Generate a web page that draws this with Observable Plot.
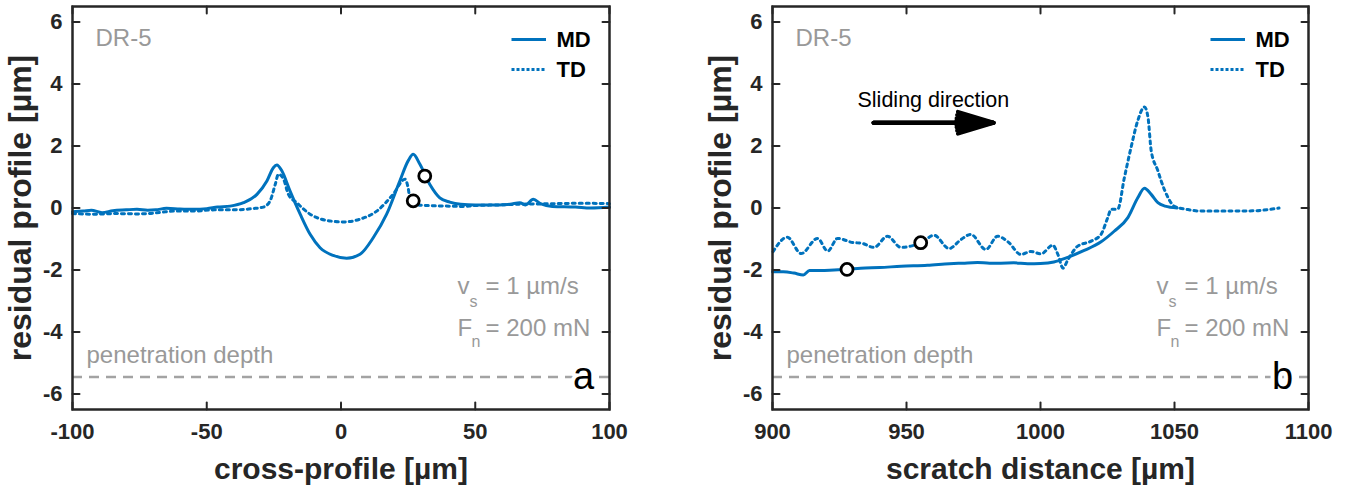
<!DOCTYPE html>
<html><head><meta charset="utf-8">
<script src="https://cdn.jsdelivr.net/npm/d3@7"></script>
<script src="https://cdn.jsdelivr.net/npm/@observablehq/plot@0.6"></script>
<style>
body{margin:0;background:#fff;}
#wrap{display:flex;width:1353px;height:493px;overflow:hidden;}
</style></head><body><div id="wrap"></div>
<script>
// ---- data ----
const yTicks = [-6, -4, -2, 0, 2, 4, 6];
const xTicksA = [-100, -50, 0, 50, 100];
const xTicksB = [900, 950, 1000, 1050, 1100];
const penetrationDepth = -5.45;

// panel a: cross-profile [µm] vs residual profile [µm]
const mdCross = [[-100,-0.12],[-96,-0.1],[-93,-0.07],[-89,-0.15],[-85,-0.09],[-80,-0.06],[-76,-0.04],[-72,-0.07],[-69,-0.06],[-65,-0.01],[-60,-0.03],[-55,-0.04],[-50,-0.02],[-46,0.03],[-41.3,0.06],[-36.3,0.17],[-31.3,0.44],[-27.6,0.87],[-25.2,1.3],[-23.9,1.39],[-22,1.19],[-19,0.55],[-15.2,-0.2],[-11.5,-0.85],[-7.8,-1.28],[-2.9,-1.53],[2.1,-1.62],[7.1,-1.49],[12,-0.96],[17,-0.2],[21.9,0.87],[25,1.52],[26.9,1.73],[29.4,1.41],[33.1,0.76],[36.8,0.33],[40.5,0.19],[44.6,0.12],[50,0.1],[58.8,0.1],[63,0.12],[66.6,0.17],[68.8,0.1],[71.6,0.28],[74.5,0.13],[78.7,0.05],[87.3,0.03],[93,0.0],[100,0.03]];
const tdCross = [[-100,-0.18],[-92,-0.2],[-84,-0.18],[-76,-0.19],[-72,-0.18],[-67,-0.14],[-62,-0.1],[-55,-0.1],[-47,-0.06],[-40,-0.06],[-33,-0.02],[-28.9,0.03],[-26.4,0.23],[-24.5,0.76],[-23.3,1.09],[-21.4,0.93],[-19.6,0.44],[-16.5,0.17],[-11.5,-0.2],[-5.3,-0.4],[0.9,-0.45],[7.1,-0.36],[13.3,-0.1],[19.4,0.44],[23.8,0.93],[25,0.65],[25.7,0.28],[26.9,0.12],[32,0.08],[40.5,0.06],[44.6,0.05],[50,0.08],[58.8,0.1],[65,0.12],[73,0.13],[80,0.14],[87.3,0.15],[93,0.15],[100,0.14]];
const markersCross = [[31.2,1.03],[26.9,0.23]];

// panel b: scratch distance [µm] vs residual profile [µm]
const mdScratch = [[900,-2.06],[904,-2.06],[908,-2.1],[911.5,-2.16],[913.8,-2.02],[918,-2.02],[923,-2.0],[927.8,-1.98],[932.9,-1.94],[940,-1.92],[948,-1.88],[957.8,-1.85],[966,-1.8],[971,-1.78],[976.5,-1.76],[981,-1.78],[985.2,-1.78],[990,-1.77],[995.2,-1.8],[1000,-1.79],[1005,-1.74],[1010.2,-1.59],[1016.3,-1.37],[1022.6,-1.09],[1027.5,-0.75],[1032.6,-0.31],[1036.3,0.33],[1038.8,0.64],[1041.3,0.44],[1043.8,0.17],[1046.5,0.06],[1051,0.0]];
const tdScratch = [[900.2,-1.41],[905.5,-0.94],[910.7,-1.47],[916.8,-0.98],[920.6,-1.39],[924.3,-0.98],[930.4,-1.12],[932.9,-1.13],[937.9,-1.27],[942.9,-0.91],[947.9,-1.27],[951.6,-1.23],[955.3,-1.13],[960.3,-0.88],[965.9,-1.31],[970.3,-1.02],[974,-0.85],[979.6,-1.34],[984,-0.91],[988,-1.1],[992.7,-1.5],[996.4,-1.4],[1000.2,-1.48],[1004.6,-1.2],[1006.5,-1.5],[1008.4,-1.94],[1010.2,-1.67],[1013.9,-1.23],[1018.9,-1.07],[1022.6,-0.85],[1025.1,-0.31],[1026.4,-0.04],[1028.8,-0.04],[1031.3,0.98],[1033.8,1.96],[1036.3,2.82],[1038.8,3.26],[1040.1,2.93],[1041.3,1.85],[1043.8,1.2],[1045,0.88],[1047.5,0.35],[1050,0.05],[1055,-0.05],[1060,-0.1],[1070,-0.1],[1080,-0.09],[1085,-0.05],[1089,0.0]];
const markersScratch = [[927.8,-1.98],[955.3,-1.12]];
const slidingArrow = [{x1: 937.7, x2: 982.5, y: 2.75}];

// ---- styles ----
const BLUE = "#0072BD", GRAY = "#999999", INK = "#262626";
const FONT = "'Liberation Sans', Arial, Helvetica, sans-serif";
const tickShape = {draw(ctx, l) { ctx.moveTo(0, 0); ctx.lineTo(0, -l); }};

function panel(o) {
  const yD = [-6.5, 6.5];
  const inner = o.width - o.marginLeft - o.marginRight;
  const tk = {length: 7, anchor: "start", shape: tickShape, stroke: INK, strokeWidth: 2};
  const gtext = (s, dx, dy, size) => Plot.text([s], {text: d => d, frameAnchor: "top-right", dx, dy, textAnchor: "start", lineAnchor: "bottom", fontSize: size, fontWeight: "normal", fill: GRAY});
  const marks = [
    Plot.ruleY([penetrationDepth], {stroke: "#a3a3a3", strokeWidth: 2.5, strokeDasharray: "10,7"}),
    Plot.text([o.letter], {text: d => d, frameAnchor: "top-right", dx: -26, dy: 382, textAnchor: "middle", lineAnchor: "bottom", fontSize: 38, fontWeight: "normal", fill: "black", stroke: "white", strokeWidth: 8, paintOrder: "stroke"}),
    Plot.line(o.td, {x: d => d[0], y: d => d[1], stroke: BLUE, strokeWidth: 3, strokeDasharray: "3,4", curve: "monotone-x"}),
    Plot.line(o.md, {x: d => d[0], y: d => d[1], stroke: BLUE, strokeWidth: 3, curve: "monotone-x"}),
    Plot.dot(o.markers, {x: d => d[0], y: d => d[1], r: 6, stroke: "black", strokeWidth: 2.8, fill: "white"}),
    Plot.vector(o.xTicks, {x: d => d, y: yD[0], rotate: 0, ...tk}),
    Plot.vector(o.xTicks, {x: d => d, y: yD[1], rotate: 180, ...tk}),
    Plot.vector(yTicks, {x: o.xDomain[0], y: d => d, rotate: 90, ...tk}),
    Plot.vector(yTicks, {x: o.xDomain[1], y: d => d, rotate: -90, ...tk}),
    Plot.frame({stroke: INK, strokeWidth: 2.5}),
    Plot.axisX(o.xTicks, {tickSize: 0, tickPadding: 14, tickFormat: d => String(d), label: null}),
    Plot.axisY(yTicks, {tickSize: 0, tickPadding: 10, tickFormat: d => String(d), label: null}),
    Plot.text([o.xTitle], {text: d => d, frameAnchor: "bottom", dy: 69, lineAnchor: "bottom", textAnchor: "middle", fontSize: 30, fontWeight: "bold", fill: INK}),
    Plot.text(["residual profile [µm]"], {text: d => d, frameAnchor: "left", dx: -52, rotate: -90, textAnchor: "middle", lineAnchor: "middle", fontSize: 32, fontWeight: "bold", fill: INK}),
    Plot.text(["DR-5"], {text: d => d, frameAnchor: "top-left", dx: 23, dy: 32, textAnchor: "start", lineAnchor: "middle", fontSize: 24, fontWeight: "normal", fill: GRAY}),
    // legend
    Plot.ruleY([5.435], {insetLeft: inner - 97.5, insetRight: 63, stroke: BLUE, strokeWidth: 3}),
    Plot.ruleY([4.47], {insetLeft: inner - 97.5, insetRight: 63, stroke: BLUE, strokeWidth: 3, strokeDasharray: "3,2"}),
    Plot.text(["MD"], {text: d => d, frameAnchor: "top-right", dx: -53, dy: 33, textAnchor: "start", lineAnchor: "middle", fontSize: 22, fontWeight: "bold", fill: "black"}),
    Plot.text(["TD"], {text: d => d, frameAnchor: "top-right", dx: -53, dy: 63, textAnchor: "start", lineAnchor: "middle", fontSize: 22, fontWeight: "bold", fill: "black"}),
    // conditions
    gtext("v", -152, 287, 24), gtext("s", -140, 300, 16), gtext("= 1 µm/s", -124, 287, 24),
    gtext("F", -152, 329, 24), gtext("n", -138, 340, 16), gtext("= 200 mN", -124, 329, 24),
    Plot.text(["penetration depth"], {text: d => d, frameAnchor: "top-left", dx: 14, dy: 356, textAnchor: "start", lineAnchor: "bottom", fontSize: 24, fontWeight: "normal", fill: GRAY})
  ];
  if (o.arrow) {
    marks.push(
      Plot.text(["Sliding direction"], {text: d => d, frameAnchor: "top-left", dx: 85, dy: 100, textAnchor: "start", lineAnchor: "bottom", fontSize: 21.5, fontWeight: "normal", fill: "black"}),
      ...[34, 24, 14, 6].map(a => Plot.arrow(slidingArrow, {x1: "x1", x2: "x2", y1: "y", y2: "y", stroke: "black", strokeWidth: 4, headLength: 14, headAngle: a}))
    );
  }
  return Plot.plot({
    width: o.width, height: 493,
    marginLeft: o.marginLeft, marginRight: o.marginRight, marginTop: 6, marginBottom: 84,
    x: {domain: o.xDomain},
    y: {domain: yD},
    style: {fontFamily: FONT, fontSize: "22px", fontWeight: "bold", color: INK, background: "white", overflow: "visible"},
    marks
  });
}

const wrap = document.getElementById("wrap");
wrap.append(panel({width: 676, marginLeft: 72, marginRight: 67, xDomain: [-100, 100], xTicks: xTicksA, xTitle: "cross-profile [µm]", md: mdCross, td: tdCross, markers: markersCross, letter: "a"}));
wrap.append(panel({width: 677, marginLeft: 96, marginRight: 45, xDomain: [900, 1100], xTicks: xTicksB, xTitle: "scratch distance [µm]", md: mdScratch, td: tdScratch, markers: markersScratch, letter: "b", arrow: true}));
</script></body></html>
